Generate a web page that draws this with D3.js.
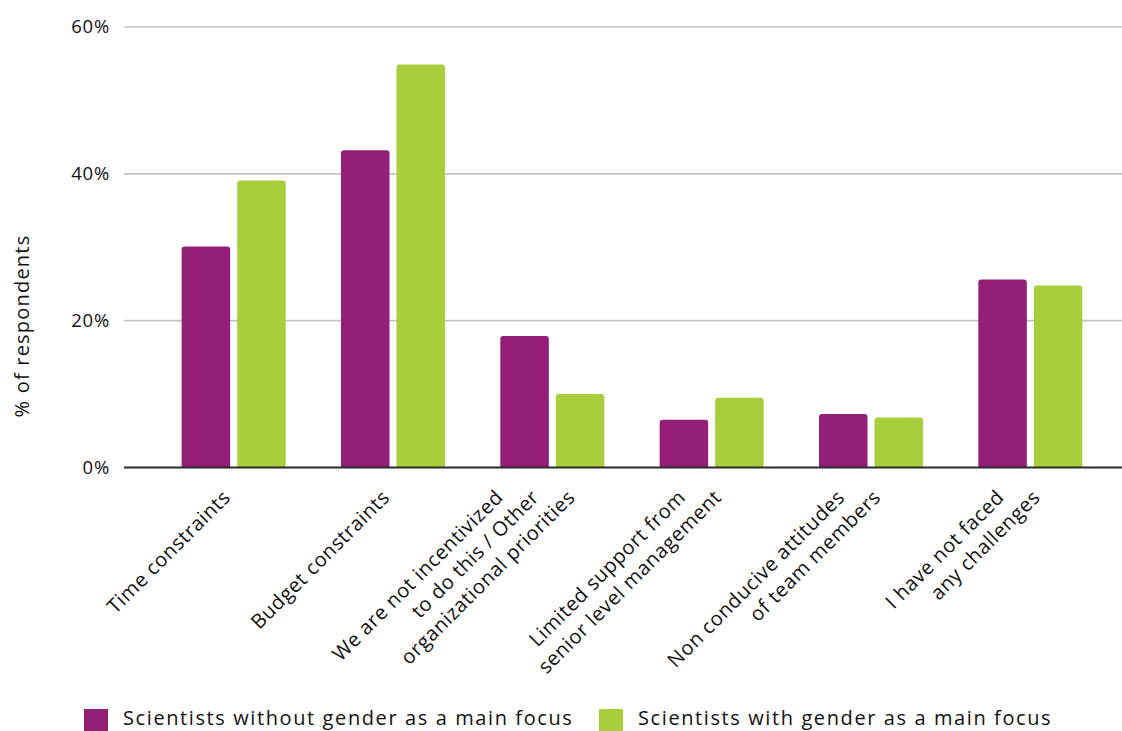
<!DOCTYPE html>
<html>
<head>
<meta charset="utf-8">
<script src="https://cdn.jsdelivr.net/npm/d3@7"></script>
<style>
  html, body { margin: 0; padding: 0; background: #ffffff; }
  svg { display: block; }
  text { font-family: "Open Sans", "Noto Sans", sans-serif; fill: #111111; }
</style>
</head>
<body>
<svg id="chart" width="1122" height="731"></svg>
<script>
// Challenges faced, by respondent group (% of respondents)
const categories = [
  "Time constraints",
  "Budget constraints",
  "We are not incentivized to do this / Other organizational priorities",
  "Limited support from senior level management",
  "Non conducive attitudes of team members",
  "I have not faced any challenges"
];
const categoryLines = [
  ["Time constraints"],
  ["Budget constraints"],
  ["We are not incentivized", "to do this / Other", "organizational priorities"],
  ["Limited support from", "senior level management"],
  ["Non conducive attitudes", "of team members"],
  ["I have not faced", "any challenges"]
];
const seriesNames = [
  "Scientists without gender as a main focus",
  "Scientists with gender as a main focus"
];
const withoutGenderFocus = [30.1, 43.2, 17.9, 6.5, 7.3, 25.6];
const withGenderFocus    = [39.1, 54.9, 10.0, 9.5, 6.8, 24.8];
const yTickValues = [0, 20, 40, 60];
const seriesColors = ["#931f76", "#a8cf3b"];

const svg = d3.select("#chart");

const plot = { left: 124, right: 1122, top: 27, bottom: 467.5 };

const y = d3.scaleLinear().domain([0, 60]).range([plot.bottom, plot.top]);

const x0 = d3.scaleBand()
  .domain(categories)
  .range([154, 1110])
  .paddingInner(0.347)
  .paddingOuter(0.1735);

const x1 = d3.scaleBand()
  .domain(seriesNames)
  .range([0, x0.bandwidth()])
  .paddingInner(0.126);

const color = d3.scaleOrdinal().domain(seriesNames).range(seriesColors);

// horizontal gridlines
svg.append("g")
  .selectAll("line")
  .data(yTickValues.filter(v => v !== 0))
  .join("line")
  .attr("x1", plot.left).attr("x2", plot.right)
  .attr("y1", d => y(d)).attr("y2", d => y(d))
  .attr("stroke", "#c4c4c4")
  .attr("stroke-width", 1.6);

// y axis labels
const yAxis = svg.append("g")
  .attr("transform", `translate(${plot.left},0)`)
  .call(d3.axisLeft(y).tickValues(yTickValues).tickSize(0).tickPadding(14).tickFormat(d => d + "%"));
yAxis.select(".domain").remove();
yAxis.selectAll("text")
  .style("font-family", '"Open Sans", sans-serif')
  .style("font-size", "18.5px")
  .style("letter-spacing", "0.8px")
  .attr("fill", "#111111");

// y axis title
svg.append("text")
  .attr("transform", "translate(29,326) rotate(-90)")
  .attr("text-anchor", "middle")
  .style("font-size", "20px")
  .style("letter-spacing", "1.2px")
  .text("% of respondents");

// bars with rounded top corners
function topRoundedBar(x, yTop, w, h, r) {
  r = Math.min(r, h, w / 2);
  return `M${x},${yTop + h}V${yTop + r}Q${x},${yTop} ${x + r},${yTop}` +
         `H${x + w - r}Q${x + w},${yTop} ${x + w},${yTop + r}V${yTop + h}Z`;
}

const rows = categories.map((c, i) => ({
  category: c,
  values: [
    { series: seriesNames[0], value: withoutGenderFocus[i] },
    { series: seriesNames[1], value: withGenderFocus[i] }
  ]
}));

svg.append("g")
  .selectAll("g")
  .data(rows)
  .join("g")
  .attr("transform", d => `translate(${x0(d.category)},0)`)
  .selectAll("path")
  .data(d => d.values)
  .join("path")
  .attr("fill", d => color(d.series))
  .attr("d", d => topRoundedBar(x1(d.series), y(d.value), x1.bandwidth(), y(0) - y(d.value), 3));

// baseline
svg.append("line")
  .attr("x1", plot.left).attr("x2", plot.right)
  .attr("y1", y(0)).attr("y2", y(0))
  .attr("stroke", "#2b2b2b")
  .attr("stroke-width", 2);

// rotated category labels, each line anchored at its end
const lineStep = 36;
const labelY = y(0) + 31;
const labels = svg.append("g");
rows.forEach((d, i) => {
  const lines = categoryLines[i];
  const n = lines.length;
  const cx = x0(d.category) + x0.bandwidth() / 2 - 2 - (n - 1) * 5;
  lines.forEach((line, k) => {
    const ax = cx + (k - (n - 1) / 2) * lineStep;
    labels.append("text")
      .attr("x", ax).attr("y", labelY)
      .attr("text-anchor", "end")
      .attr("transform", `rotate(-45,${ax},${labelY})`)
      .style("font-size", "20px")
      .style("letter-spacing", "0.6px")
      .text(line);
  });
});

// legend
const legendItems = [
  { name: seriesNames[0], sx: 84, tx: 123 },
  { name: seriesNames[1], sx: 599, tx: 638 }
];
const legend = svg.append("g");
legendItems.forEach(item => {
  legend.append("rect")
    .attr("x", item.sx).attr("y", 709)
    .attr("width", 24).attr("height", 22)
    .attr("fill", color(item.name));
  legend.append("text")
    .attr("x", item.tx).attr("y", 725)
    .style("font-size", "20px")
    .style("letter-spacing", "1.6px")
    .text(item.name);
});
</script>
</body>
</html>
